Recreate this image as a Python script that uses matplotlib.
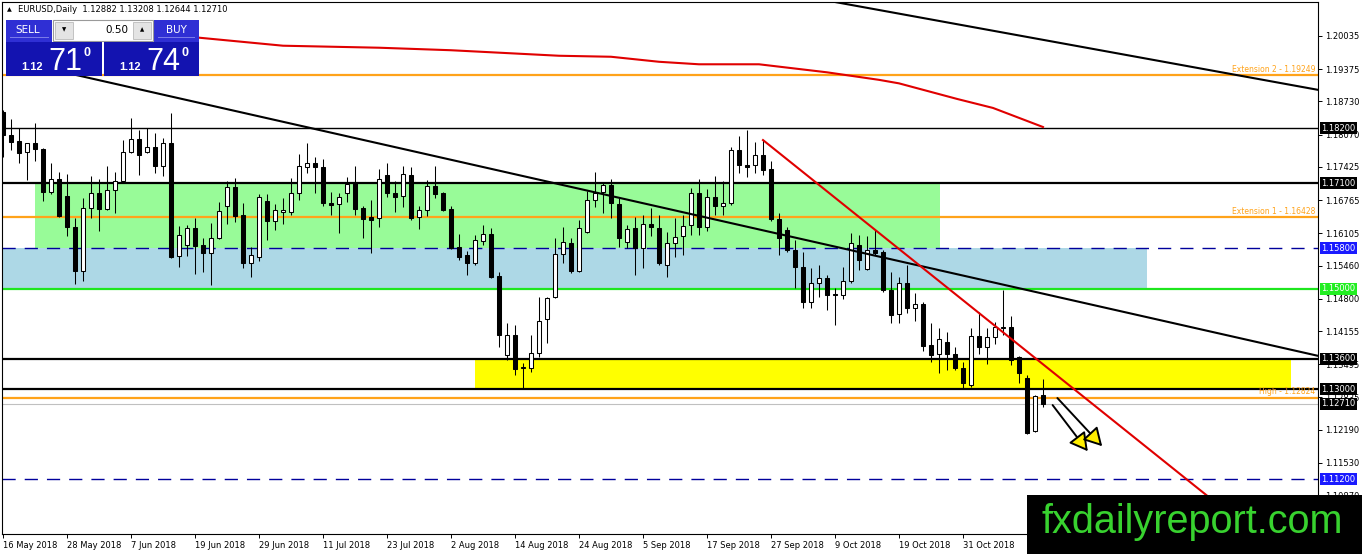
import numpy as np
import matplotlib
matplotlib.use("Agg")
import matplotlib.pyplot as plt
from matplotlib.patches import Rectangle, FancyArrowPatch

# EURUSD daily, 16 May 2018 - 14 Nov 2018
opens = [1.1852, 1.1806, 1.1794, 1.1772, 1.1790, 1.1778, 1.1693, 1.1718, 1.1685, 1.1623,
         1.1535, 1.1661, 1.1691, 1.1659, 1.1697, 1.1714, 1.1772, 1.1798, 1.1772, 1.1782,
         1.1744, 1.1790, 1.1565, 1.1587, 1.1621, 1.1587, 1.1571, 1.1601, 1.1665, 1.1703,
         1.1647, 1.1551, 1.1563, 1.1675, 1.1635, 1.1653, 1.1653, 1.1691, 1.1742, 1.1750,
         1.1742, 1.1671, 1.1669, 1.1691, 1.1710, 1.1661, 1.1643, 1.1641, 1.1726, 1.1691,
         1.1685, 1.1726, 1.1643, 1.1657, 1.1704, 1.1691, 1.1659, 1.1583, 1.1567, 1.1551,
         1.1595, 1.1609, 1.1525, 1.1368, 1.1408, 1.1342, 1.1342, 1.1372, 1.1440, 1.1483,
         1.1569, 1.1591, 1.1535, 1.1613, 1.1677, 1.1693, 1.1706, 1.1669, 1.1593, 1.1621,
         1.1581, 1.1629, 1.1621, 1.1547, 1.1591, 1.1605, 1.1627, 1.1691, 1.1623, 1.1683,
         1.1665, 1.1671, 1.1776, 1.1746, 1.1746, 1.1766, 1.1738, 1.1639, 1.1617, 1.1577,
         1.1543, 1.1473, 1.1511, 1.1521, 1.1489, 1.1487, 1.1515, 1.1587, 1.1539, 1.1577,
         1.1573, 1.1497, 1.1450, 1.1511, 1.1461, 1.1469, 1.1388, 1.1370, 1.1394, 1.1370,
         1.1342, 1.1308, 1.1406, 1.1384, 1.1404, 1.1422, 1.1424, 1.1364, 1.1322, 1.1216,
         1.12882]
highs = [1.1856, 1.1838, 1.1820, 1.1790, 1.1830, 1.1780, 1.1750, 1.1732, 1.1728, 1.1641,
         1.1681, 1.1724, 1.1718, 1.1744, 1.1732, 1.1796, 1.1840, 1.1816, 1.1820, 1.1810,
         1.1800, 1.1850, 1.1625, 1.1627, 1.1641, 1.1601, 1.1631, 1.1673, 1.1714, 1.1720,
         1.1671, 1.1583, 1.1689, 1.1689, 1.1669, 1.1681, 1.1720, 1.1768, 1.1790, 1.1762,
         1.1758, 1.1693, 1.1691, 1.1722, 1.1744, 1.1665, 1.1677, 1.1738, 1.1750, 1.1714,
         1.1744, 1.1742, 1.1665, 1.1716, 1.1744, 1.1693, 1.1665, 1.1609, 1.1575, 1.1607,
         1.1627, 1.1621, 1.1533, 1.1432, 1.1428, 1.1352, 1.1408, 1.1483, 1.1483, 1.1601,
         1.1623, 1.1601, 1.1637, 1.1695, 1.1732, 1.1710, 1.1718, 1.1681, 1.1627, 1.1643,
         1.1647, 1.1661, 1.1647, 1.1613, 1.1641, 1.1647, 1.1701, 1.1718, 1.1699, 1.1724,
         1.1714, 1.1782, 1.1804, 1.1816, 1.1792, 1.1796, 1.1754, 1.1651, 1.1623, 1.1597,
         1.1573, 1.1541, 1.1547, 1.1527, 1.1501, 1.1543, 1.1611, 1.1607, 1.1605, 1.1617,
         1.1577, 1.1533, 1.1523, 1.1547, 1.1491, 1.1473, 1.1432, 1.1422, 1.1414, 1.1384,
         1.1354, 1.1422, 1.1454, 1.1422, 1.1434, 1.1497, 1.1446, 1.1366, 1.1328, 1.1288,
         1.13208]
lows = [1.1762, 1.1776, 1.1750, 1.1716, 1.1754, 1.1675, 1.1689, 1.1643, 1.1605, 1.1509,
        1.1515, 1.1641, 1.1615, 1.1657, 1.1651, 1.1710, 1.1770, 1.1726, 1.1770, 1.1730,
        1.1724, 1.1561, 1.1543, 1.1565, 1.1529, 1.1533, 1.1507, 1.1599, 1.1629, 1.1633,
        1.1541, 1.1523, 1.1555, 1.1597, 1.1617, 1.1629, 1.1647, 1.1677, 1.1730, 1.1691,
        1.1665, 1.1647, 1.1611, 1.1673, 1.1647, 1.1601, 1.1571, 1.1623, 1.1683, 1.1653,
        1.1663, 1.1637, 1.1619, 1.1645, 1.1681, 1.1655, 1.1579, 1.1557, 1.1527, 1.1547,
        1.1587, 1.1521, 1.1384, 1.1358, 1.1328, 1.1300, 1.1334, 1.1364, 1.1392, 1.1481,
        1.1551, 1.1531, 1.1533, 1.1611, 1.1663, 1.1651, 1.1641, 1.1583, 1.1581, 1.1527,
        1.1541, 1.1605, 1.1547, 1.1523, 1.1563, 1.1567, 1.1607, 1.1607, 1.1615, 1.1647,
        1.1647, 1.1667, 1.1730, 1.1722, 1.1730, 1.1726, 1.1635, 1.1567, 1.1573, 1.1501,
        1.1461, 1.1461, 1.1483, 1.1457, 1.1428, 1.1479, 1.1511, 1.1537, 1.1537, 1.1567,
        1.1493, 1.1432, 1.1432, 1.1452, 1.1436, 1.1376, 1.1354, 1.1332, 1.1338, 1.1338,
        1.1300, 1.1304, 1.1370, 1.1350, 1.1390, 1.1408, 1.1348, 1.1312, 1.1210, 1.1214,
        1.12644]
closes = [1.1806, 1.1792, 1.1770, 1.1790, 1.1778, 1.1693, 1.1718, 1.1645, 1.1623, 1.1535,
          1.1661, 1.1691, 1.1659, 1.1697, 1.1714, 1.1772, 1.1798, 1.1766, 1.1782, 1.1744,
          1.1790, 1.1563, 1.1607, 1.1621, 1.1585, 1.1571, 1.1601, 1.1655, 1.1703, 1.1645,
          1.1551, 1.1567, 1.1683, 1.1635, 1.1657, 1.1657, 1.1691, 1.1744, 1.1750, 1.1742,
          1.1671, 1.1667, 1.1683, 1.1708, 1.1659, 1.1639, 1.1637, 1.1718, 1.1691, 1.1683,
          1.1728, 1.1641, 1.1657, 1.1704, 1.1689, 1.1657, 1.1581, 1.1563, 1.1551, 1.1597,
          1.1609, 1.1523, 1.1408, 1.1408, 1.1340, 1.1344, 1.1372, 1.1436, 1.1481, 1.1569,
          1.1593, 1.1535, 1.1621, 1.1677, 1.1691, 1.1706, 1.1671, 1.1601, 1.1619, 1.1581,
          1.1629, 1.1623, 1.1551, 1.1591, 1.1603, 1.1625, 1.1691, 1.1623, 1.1683, 1.1665,
          1.1671, 1.1776, 1.1746, 1.1742, 1.1766, 1.1736, 1.1639, 1.1601, 1.1577, 1.1543,
          1.1473, 1.1511, 1.1521, 1.1487, 1.1487, 1.1515, 1.1591, 1.1557, 1.1577, 1.1571,
          1.1497, 1.1448, 1.1511, 1.1461, 1.1469, 1.1386, 1.1368, 1.1400, 1.1370, 1.1342,
          1.1312, 1.1406, 1.1384, 1.1404, 1.1424, 1.1424, 1.1358, 1.1332, 1.1212, 1.1286,
          1.12710]

date_labels = ["16 May 2018", "28 May 2018", "7 Jun 2018", "19 Jun 2018", "29 Jun 2018",
               "11 Jul 2018", "23 Jul 2018", "2 Aug 2018", "14 Aug 2018", "24 Aug 2018",
               "5 Sep 2018", "17 Sep 2018", "27 Sep 2018", "9 Oct 2018", "19 Oct 2018",
               "31 Oct 2018"]
date_bars = [0, 8, 16, 24, 32, 40, 48, 56, 64, 72, 80, 88, 96, 104, 112, 120]

price_ticks = [1.20035, 1.19375, 1.18730, 1.18070, 1.17425, 1.16765, 1.16105, 1.15460,
               1.14800, 1.14155, 1.13495, 1.12835, 1.12190, 1.11530, 1.10870]

# moving average (red curve), sampled along the drawn line
ma_bars = [24.5, 35, 47, 56, 69.5, 76, 82, 87, 94.5, 103, 109.5, 112, 119.25, 123.75, 130]
ma_vals = [1.2000, 1.1984, 1.1980, 1.1975, 1.1964, 1.1962, 1.1952, 1.1947, 1.1947, 1.1931,
           1.1916, 1.1909, 1.1878, 1.1860, 1.1822]

# drawn objects
black_levels = [1.1820, 1.1710, 1.1360, 1.1300]
black_widths = [1.0, 1.6, 1.6, 1.6]
green_level = 1.1500
dashed_levels = [1.1580, 1.1120]
orange_levels = [1.19249, 1.16428, 1.12824]
orange_names = ["Extension 2 - 1.19249", "Extension 1 - 1.16428", "High - 1.12824"]
bid_level = 1.12710

zone_green = (4.0, 117.1, 1.1580, 1.1710)
zone_blue = (-0.5, 143.0, 1.1500, 1.1580)
zone_yellow = (59.0, 161.0, 1.1300, 1.1360)

trend_black1 = ([7.1, 164.4], [1.1933, 1.1366])
trend_black2 = ([103.0, 164.4], [1.2074, 1.1896])
trend_red = ([95.0, 156.5], [1.1796, 1.1011])
arrows = [((131.2, 1.1268), (135.6, 1.1176)), ((131.8, 1.1282), (137.4, 1.1186))]

axis_tags = [(1.1820, "1.18200", "black"), (1.1710, "1.17100", "black"),
             (1.1580, "1.15800", "#1a1aff"), (1.1500, "1.15000", "#22ee22"),
             (1.1360, "1.13600", "black"), (1.1300, "1.13000", "black"),
             (1.12710, "1.12710", "black"), (1.1120, "1.11200", "#1a1aff")]

W, H = 1362, 554
fig = plt.figure(figsize=(W / 100, H / 100), dpi=100)
fig.patch.set_facecolor("white")
ax = fig.add_axes([2 / W, 20 / H, 1316 / W, 532 / H])
ax.set_xlim(-0.125, 164.375)
ax.set_ylim(1.10111, 1.20711)

orange = "#ffa31a"

# zones
for (x0, x1, y0, y1), col in [(zone_blue, "#add8e6"), (zone_green, "#98fb98"), (zone_yellow, "#ffff00")]:
    ax.add_patch(Rectangle((x0, y0), x1 - x0, y1 - y0, facecolor=col, edgecolor="none", zorder=0))

for lv, lw in zip(black_levels, black_widths):
    ax.axhline(lv, color="black", lw=lw, zorder=2)
ax.axhline(green_level, color="#1ee61e", lw=1.6, zorder=2)
for lv in dashed_levels:
    ax.axhline(lv, color="#00009c", lw=1.0, ls=(0, (9.5, 6.5)), zorder=2)
for lv, name in zip(orange_levels, orange_names):
    ax.axhline(lv, color=orange, lw=1.6, zorder=2)
    ax.annotate(name, xy=(1, lv), xycoords=("axes fraction", "data"), xytext=(-2, 1),
                textcoords="offset points", ha="right", va="bottom", color=orange, fontsize=5.5, zorder=6)
ax.axhline(bid_level, color="#c0c0c0", lw=0.8, zorder=2)

# candles
x = np.arange(len(opens))
o = np.array(opens)
c = np.array(closes)
up = c >= o
ax.vlines(x, lows, highs, color="black", lw=0.75, zorder=3)
ax.bar(x, np.maximum(np.abs(c - o), 0.00002), bottom=np.minimum(o, c), width=0.55,
       color=np.where(up, "white", "black"), edgecolor="black", lw=0.75, zorder=4)

# MA and trendlines
ax.plot(ma_bars, ma_vals, color="#e00000", lw=1.5, zorder=5)
ax.plot(*trend_black1, color="black", lw=1.5, zorder=5)
ax.plot(*trend_black2, color="black", lw=1.5, zorder=5)
ax.plot(*trend_red, color="#e00000", lw=1.5, zorder=5)
for a, b in arrows:
    ax.add_patch(FancyArrowPatch(a, b, arrowstyle="-|>,head_length=0.5,head_width=0.28",
                                 mutation_scale=22, lw=1.4, edgecolor="black", facecolor="#ffee00",
                                 shrinkA=0, shrinkB=0, zorder=7))

# axes look
for s in ax.spines.values():
    s.set_color("black")
    s.set_linewidth(0.8)
ax.yaxis.tick_right()
ax.set_yticks(price_ticks)
ax.set_yticklabels([f"{v:.5f}" for v in price_ticks])
ax.tick_params(axis="y", length=3, width=0.7, pad=2, labelsize=6, colors="black")
ax.set_xticks(date_bars)
ax.set_xticklabels(date_labels)
ax.tick_params(axis="x", length=3, width=0.7, pad=2, labelsize=6)
for lab in ax.get_xticklabels():
    lab.set_ha("left")

for lv, txt, col in axis_tags:
    ax.annotate(txt, xy=(1, lv), xycoords=("axes fraction", "data"), xytext=(2.2, 0),
                textcoords="offset points", ha="left", va="center", color="white", fontsize=6,
                annotation_clip=False, zorder=10,
                bbox=dict(boxstyle="square,pad=0.18", fc=col, ec="none"))


# overlay items in pixel coordinates
def fig_rect(x0, y0, x1, y1, **kw):
    fig.add_artist(Rectangle((x0 / W, 1 - y1 / H), (x1 - x0) / W, (y1 - y0) / H,
                             transform=fig.transFigure, **kw))


def fig_text(x, y, s, **kw):
    fig.text(x / W, 1 - y / H, s, **kw)


fig_text(7, 10, "\u25b2", fontsize=4.5, va="center", ha="left", color="black")
fig_text(18, 10, "EURUSD,Daily  1.12882 1.13208 1.12644 1.12710", fontsize=6, va="center", ha="left")

blue_btn = "#2f2fd4"
blue_box = "#1313b0"
fig_rect(6, 20, 52, 42, facecolor=blue_btn, edgecolor="none", zorder=20)
fig_rect(154, 20, 199, 42, facecolor=blue_btn, edgecolor="none", zorder=20)
fig_rect(10, 37, 49, 38, facecolor="#7a7ae8", edgecolor="none", zorder=21)
fig_rect(158, 37, 195, 38, facecolor="#7a7ae8", edgecolor="none", zorder=21)
fig_rect(53, 20, 153, 41, facecolor="white", edgecolor="#9a9a9a", lw=0.8, zorder=20)
fig_rect(55, 22, 73, 39, facecolor="#e4e4e4", edgecolor="#b0b0b0", lw=0.5, zorder=21)
fig_rect(133, 22, 151, 39, facecolor="#e4e4e4", edgecolor="#b0b0b0", lw=0.5, zorder=21)
fig_rect(6, 42, 102, 76, facecolor=blue_box, edgecolor="none", zorder=20)
fig_rect(104, 42, 199, 76, facecolor=blue_box, edgecolor="none", zorder=20)
fig_text(28, 30, "SELL", color="white", fontsize=7.5, ha="center", va="center", zorder=22)
fig_text(176, 30, "BUY", color="white", fontsize=7.5, ha="center", va="center", zorder=22)
fig_text(64, 30, "\u25bc", color="black", fontsize=4, ha="center", va="center", zorder=22)
fig_text(142, 30, "\u25b2", color="black", fontsize=4, ha="center", va="center", zorder=22)
fig_text(128, 30, "0.50", color="black", fontsize=7.5, ha="right", va="center", zorder=22)
for x0, small, big in [(21, "1.12", "71"), (119, "1.12", "74")]:
    fig_text(x0, 70, small, color="white", fontsize=8, fontweight="bold", ha="left",
             va="baseline", family="Liberation Sans", zorder=22)
    fig_text(x0 + 27, 70, big, color="white", fontsize=22, ha="left", va="baseline",
             family="Liberation Sans", zorder=22)
    fig_text(x0 + 62, 56, "0", color="white", fontsize=9, fontweight="bold", ha="left",
             va="baseline", family="Liberation Sans", zorder=22)

fig_rect(1027, 495, 1362, 554, facecolor="black", edgecolor="none", zorder=30)
fig_text(1042, 533, "fxdailyreport.com", color="#38d22f", fontsize=28.5, ha="left", va="baseline",
         family="Liberation Sans", zorder=31)

fig.savefig("out.png", dpi=100)
